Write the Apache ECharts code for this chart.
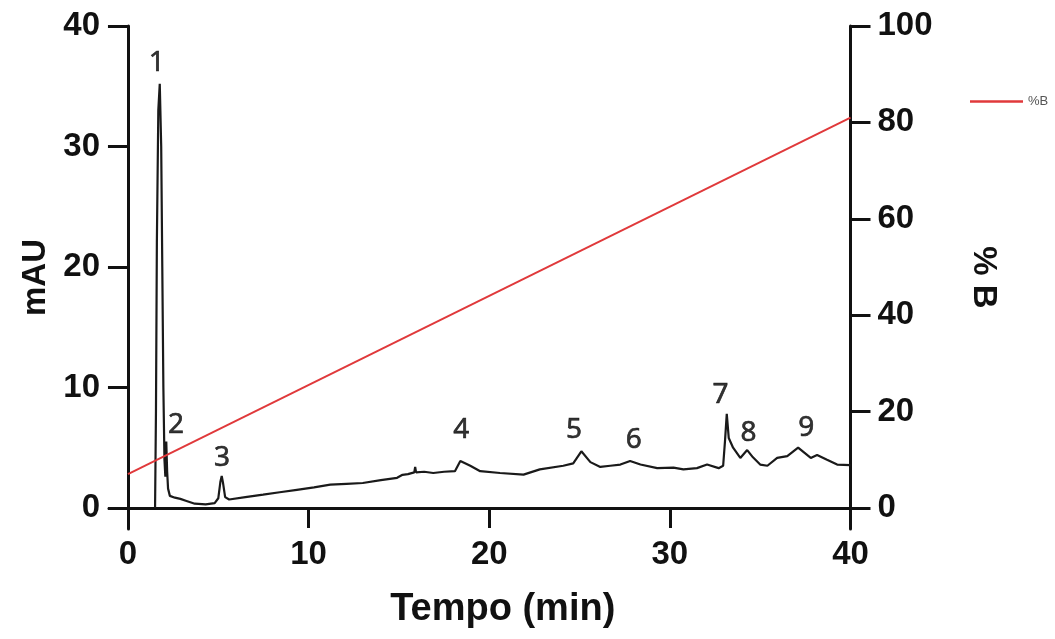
<!DOCTYPE html>
<html>
<head>
<meta charset="utf-8">
<script src="https://cdn.jsdelivr.net/npm/echarts@6/dist/echarts.min.js"></script>
<style>
    html, body { margin: 0; padding: 0; background: #fff; }
    #chart { width: 1055px; height: 639px; }
</style>
</head>
<body>
<div id="chart"></div>
<script>
// chromatogram (min, mAU)
const timeMin = [1.50, 1.55, 1.60, 1.68, 1.76, 1.84, 1.90, 1.96, 2.02, 2.07, 2.12, 2.17, 2.22, 2.32, 2.6, 2.9, 3.2, 3.7, 4.3, 4.8, 5.0, 5.12, 5.19, 5.26, 5.38, 5.6,
    6.5, 7.48, 8.4, 9.35, 10.3, 11.2, 12.1, 13.0, 14.0, 14.9, 15.2, 15.5, 15.85, 15.9, 15.95, 16.4, 16.9, 17.5, 18.1, 18.4, 18.95, 19.5,
    20.6, 21.9, 22.8, 24.1, 24.65, 25.1, 25.6, 26.15, 26.7, 27.26, 27.8, 28.37, 29.3, 30.2, 30.75, 31.5, 32.06, 32.7, 32.95, 33.05,
    33.15, 33.26, 33.5, 33.9, 34.28, 34.6, 35.0, 35.4, 35.94, 36.5, 37.1, 37.8, 38.15, 38.7, 39.26, 40.0];
const absMau = [0, 8, 22, 33, 35.2, 30, 20, 10, 4.0, 2.6, 5.5, 3.0, 1.6, 1.0, 0.85, 0.75, 0.6, 0.35, 0.3, 0.4, 0.8, 2.2, 2.65, 2.1, 0.9, 0.7,
    0.9, 1.1, 1.3, 1.5, 1.7, 1.93, 2.0, 2.07, 2.3, 2.5, 2.75, 2.8, 2.95, 3.4, 2.95, 3.0, 2.9, 3.0, 3.05, 3.9, 3.5, 3.05,
    2.9, 2.76, 3.2, 3.5, 3.7, 4.7, 3.8, 3.4, 3.5, 3.6, 3.9, 3.6, 3.3, 3.35, 3.2, 3.3, 3.6, 3.3, 3.5, 5.5,
    7.8, 5.8, 5.0, 4.15, 4.8, 4.2, 3.6, 3.5, 4.15, 4.3, 5.0, 4.15, 4.4, 4.0, 3.6, 3.55];

// gradient (min, %B)
const gradientTime = [0, 40];
const gradientB = [7, 81];

// peak numbers and where they sit (min, mAU)
const peakNames = ["1", "2", "3", "4", "5", "6", "7", "8", "9"];
const peakTimes = [1.6, 2.66, 5.2, 18.45, 24.7, 28.0, 32.8, 34.35, 37.55];
const peakHeights = [36.9, 6.9, 4.15, 6.5, 6.5, 5.6, 9.4, 6.2, 6.6];

const xTicks = [0, 10, 20, 30, 40];
const leftTicks = [0, 10, 20, 30, 40];
const rightTicks = [0, 20, 40, 60, 80, 100];

const chart = echarts.init(document.getElementById("chart"));

const axisFont = {
    fontFamily: "Liberation Sans",
    fontWeight: "bold",
    fontSize: 33,
    color: "#111"
};
const axisLine = { show: true, lineStyle: { color: "#111", width: 3 } };
const axisTick = (vals) => ({ show: true, length: 20, lineStyle: { color: "#111", width: 3 }, customValues: vals });

const option = {
    animation: false,
    grid: { left: 109, right: 204.5, top: 26, bottom: 110, containLabel: false, outerBoundsMode: "none" },
    legend: {
        data: ["%B"],
        left: 965,
        top: 90,
        icon: "rect",
        itemWidth: 53,
        itemHeight: 2.5,
        itemGap: 10,
        textStyle: { fontFamily: "Liberation Sans", fontSize: 13, color: "#555" }
    },
    xAxis: {
        type: "value",
        min: -1.05,
        max: 40,
        name: "Tempo (min)",
        nameLocation: "middle",
        nameGap: 62,
        nameTextStyle: Object.assign({}, axisFont, { fontSize: 38, padding: [0, 0, 0, 46] }),
        axisLine: Object.assign({ onZero: true }, axisLine),
        axisTick: axisTick(xTicks),
        axisLabel: Object.assign({ customValues: xTicks, margin: 9 }, axisFont),
        splitLine: { show: false }
    },
    yAxis: [
        {
            type: "value",
            min: -1.75,
            max: 40,
            name: "mAU",
            nameLocation: "middle",
            nameGap: 55,
            nameTextStyle: axisFont,
            axisLine: Object.assign({ onZero: true }, axisLine),
            axisTick: axisTick(leftTicks),
            axisLabel: Object.assign({ customValues: leftTicks, margin: 9 }, axisFont),
            splitLine: { show: false }
        },
        {
            type: "value",
            position: "right",
            min: -4.375,
            max: 100,
            name: "% B",
            nameLocation: "middle",
            nameRotate: -90,
            nameGap: 116,
            nameTextStyle: axisFont,
            axisLine: Object.assign({ onZero: false }, axisLine),
            axisTick: axisTick(rightTicks),
            axisLabel: Object.assign({ customValues: rightTicks, margin: 27 }, axisFont),
            splitLine: { show: false }
        }
    ],
    series: [
        {
            name: "mAU",
            type: "line",
            yAxisIndex: 0,
            data: timeMin.map((t, i) => [t, absMau[i]]),
            symbol: "none",
            lineStyle: { color: "#1a1a1a", width: 2.2 },
            z: 3
        },
        {
            name: "%B",
            type: "line",
            yAxisIndex: 1,
            data: gradientTime.map((t, i) => [t, gradientB[i]]),
            symbol: "none",
            itemStyle: { color: "#e0393b" },
            lineStyle: { color: "#e0393b", width: 2 },
            z: 4
        },
        {
            name: "peaks",
            type: "scatter",
            yAxisIndex: 0,
            symbolSize: 1,
            itemStyle: { color: "transparent" },
            data: peakNames.map((n, i) => ({ name: n, value: [peakTimes[i], peakHeights[i]] })),
            label: {
                show: true,
                position: "inside",
                formatter: (p) => p.name,
                fontFamily: "Noto Sans",
                fontSize: 28,
                color: "#000",
                textBorderColor: "#000",
                textBorderWidth: 0.6
            },
            z: 5
        }
    ]
};

chart.setOption(option);
</script>
</body>
</html>
